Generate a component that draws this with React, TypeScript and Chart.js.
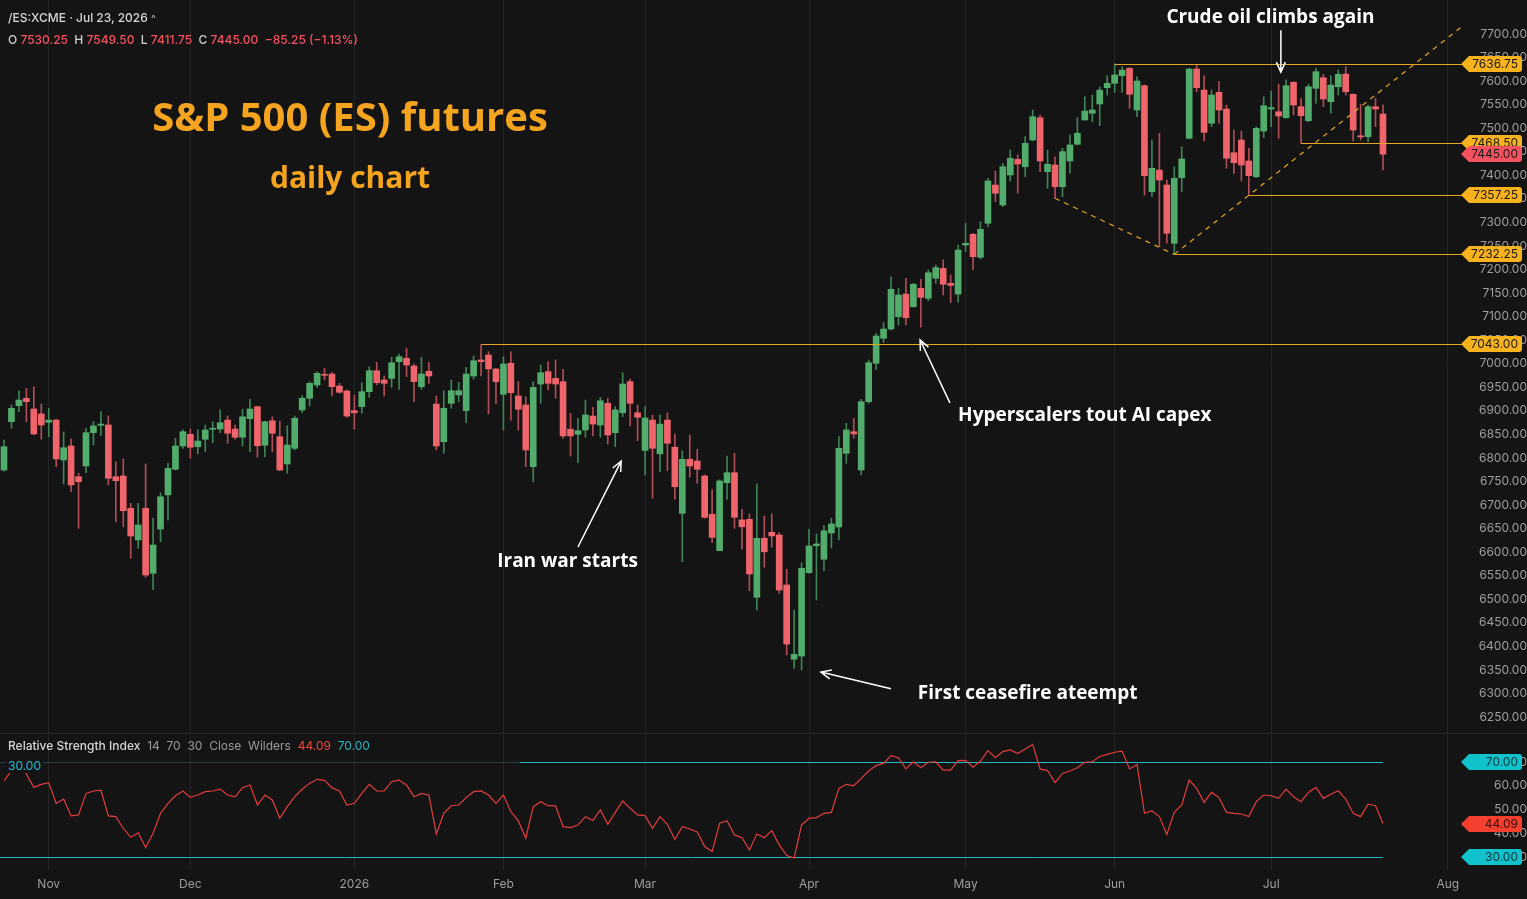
import React, { useEffect, useRef } from 'react';
import { Chart, registerables } from 'chart.js';
Chart.register(...registerables);

// ---------- data (one entry per trading day, Oct 24 2025 .. Jul 23 2026) ----------
const opens = [6774.5, 6877, 6911, 6926.75, 6904, 6893.5, 6875.75, 6880.5, 6795.75, 6825.5,
  6760.25, 6783, 6853.75, 6869.5, 6870, 6760.25, 6761.75, 6693.25, 6626, 6693.25,
  6555.25, 6649.25, 6721.5, 6776, 6825.5, 6850.25, 6824, 6839.75, 6861, 6861.5,
  6880.5, 6861.5, 6844, 6883.5, 6909, 6827, 6879, 6845.25, 6787.25, 6820.5,
  6902, 6926.75, 6955, 6977.5, 6978.25, 6952.75, 6942.25, 6900.5, 6909, 6940.75,
  6985.25, 6965.5, 6969, 7004.5, 7011.5, 6995.25, 6951.25, 6984, 6914.5, 6834.5,
  6916, 6933.75, 6900.5, 6974, 7008, 7018.5, 6989, 6935.25, 7001, 6931.5,
  6912.5, 6781.5, 6957, 6983.25, 6969, 6962, 6861, 6850.25, 6859.5, 6889,
  6870, 6916, 6853.75, 6896, 6962, 6896, 6816, 6880.5, 6809, 6880.5,
  6822.75, 6682.5, 6797.25, 6793.5, 6761.75, 6680.5, 6603.25, 6747.5, 6768.75, 6668.5,
  6669.75, 6504.25, 6629.5, 6642.25, 6636.5, 6530.5, 6372.75, 6379.5, 6556.5, 6613.75,
  6585, 6640.75, 6653.5, 6810, 6855.75, 6774.5, 6919.5, 7001, 7054, 7073.75,
  7100, 7148, 7121.25, 7160.25, 7139, 7181.5, 7202.5, 7170.75, 7148, 7252,
  7274.75, 7226, 7298.25, 7379.5, 7337, 7400.75, 7434, 7418.25, 7475, 7522.25,
  7407.75, 7422, 7375.75, 7430.5, 7466, 7517.5, 7531.75, 7551.5, 7586, 7595.25,
  7611.5, 7627.25, 7538.75, 7590.25, 7365.25, 7411.25, 7379.5, 7255.75, 7395, 7478.5,
  7625.75, 7581, 7510.5, 7576.25, 7540.75, 7448, 7475, 7430.5, 7397, 7494,
  7540.75, 7535, 7522.25, 7597.5, 7545.75, 7516, 7584.75, 7607.25, 7556.25, 7588,
  7615, 7572, 7484, 7482, 7545.75, 7530.25];

const highs = [6838.25, 6912.5, 6942.75, 6948, 6951.25, 6914.5, 6905.5, 6882, 6855.25, 6840.25,
  6767.5, 6863, 6877, 6898.25, 6889, 6792, 6798, 6703.75, 6703.75, 6787.25,
  6672, 6726.25, 6788.75, 6841.75, 6859.5, 6861, 6859.5, 6870, 6877, 6902,
  6889, 6870, 6903.5, 6924.5, 6910.25, 6878.5, 6887.5, 6878.5, 6868.5, 6889,
  6932.25, 6962, 6983.25, 6990.5, 6982, 6958.5, 6944.5, 6933.75, 6959.75, 6993.75,
  7003, 6974, 7013.75, 7020.75, 7032.75, 6999.5, 7013.75, 7003, 6931.5, 6942.75,
  6965.5, 6960.5, 6992.5, 7016.5, 7040, 7025.5, 6990.5, 7015, 7025.5, 6962,
  6930, 6962, 6997.5, 7004.5, 7008, 6988.25, 6894.75, 6884.25, 6923, 6907.5,
  6928.75, 6926.75, 6909, 6981, 6967, 6912.5, 6909, 6891.25, 6891.25, 6896,
  6851, 6815.5, 6848.75, 6818.5, 6764, 6732.25, 6753.5, 6804.25, 6810, 6691,
  6681.25, 6744.75, 6677, 6681.25, 6641.5, 6563.75, 6477.25, 6577.75, 6648.5, 6638.75,
  6656.25, 6672.5, 6845.25, 6873.5, 6884.25, 6924.5, 7008, 7064.75, 7087.25, 7184.75,
  7160.25, 7181.5, 7170.75, 7179.25, 7199, 7209.75, 7220.25, 7188.5, 7252, 7298.25,
  7277, 7301.5, 7393.75, 7409.25, 7425.5, 7453.75, 7443.25, 7482, 7538.75, 7528,
  7453.75, 7439.5, 7457.5, 7485.5, 7522.25, 7567, 7570.5, 7588, 7611.5, 7636.75,
  7630.5, 7629, 7609.5, 7592, 7475, 7489.25, 7390, 7418.25, 7460.75, 7627.25,
  7635.75, 7611.5, 7581, 7599, 7549.25, 7496.25, 7494, 7457.5, 7503.25, 7567,
  7579, 7593.5, 7602.5, 7599, 7563.5, 7593.5, 7627.25, 7614.5, 7611.5, 7623.5,
  7630.5, 7573, 7550.75, 7549.25, 7563.5, 7549.5];

const lows = [6772, 6863, 6898.25, 6877, 6848.75, 6839.75, 6845.25, 6781.5, 6744.75, 6728.5,
  6650.75, 6768.75, 6827.5, 6847.25, 6742.75, 6664.75, 6654, 6587, 6608.25, 6546.75,
  6521.25, 6622.25, 6668.5, 6774.5, 6820.5, 6799.25, 6809, 6813.25, 6832.5, 6853.75,
  6831.25, 6839.75, 6825.5, 6813.25, 6801.5, 6802.75, 6813.25, 6773, 6767.5, 6817,
  6896, 6910.25, 6950, 6965.5, 6932.25, 6937.25, 6886.5, 6861, 6894.75, 6928.75,
  6955, 6931.5, 6950, 6945.75, 6972.5, 6919.5, 6945.75, 6958.5, 6817, 6810,
  6905.5, 6919.5, 6875, 6967, 6974, 6893.5, 6916, 6859.5, 6880.5, 6859.5,
  6781.5, 6749.75, 6916, 6944.25, 6926.75, 6841.75, 6804.25, 6790, 6844, 6846.75,
  6844, 6829.75, 6824, 6887.5, 6868, 6836.75, 6764, 6714.5, 6771, 6773,
  6712.25, 6579.75, 6759, 6746.25, 6672, 6620.25, 6603.25, 6712.25, 6650.75, 6606.25,
  6518.25, 6477.25, 6568, 6610.5, 6512.75, 6381.75, 6353.5, 6350, 6555.25, 6498.5,
  6560.75, 6609, 6626, 6788.75, 6841.75, 6764, 6916, 6988.25, 7044.75, 7071.75,
  7082.25, 7082.25, 7120, 7077.5, 7134, 7170.75, 7146, 7129.5, 7131, 7238,
  7199, 7222.5, 7291, 7344, 7333.5, 7388, 7362, 7397, 7473, 7407.75,
  7372.5, 7351.25, 7354.5, 7404.25, 7464.5, 7517.5, 7513.75, 7505.5, 7570.5, 7576.25,
  7576.25, 7542.25, 7524.5, 7358.25, 7354.5, 7248.5, 7255.75, 7232.25, 7365.25, 7478.5,
  7577.5, 7473, 7503.25, 7510.5, 7415, 7404.25, 7388, 7357.25, 7395, 7480,
  7503.25, 7478.5, 7521.25, 7528, 7468.5, 7513.75, 7553, 7545.75, 7531.75, 7570.5,
  7570.5, 7473, 7475, 7471.5, 7503.25, 7411.75];

const closes = [6824, 6905.5, 6923, 6919.5, 6851, 6870, 6880.5, 6798, 6821.75, 6742.75,
  6749.75, 6853.75, 6868, 6872, 6757, 6751.75, 6688, 6634.5, 6657.75, 6551.5,
  6615.25, 6717.75, 6778, 6825.5, 6855.75, 6822.75, 6836, 6859.5, 6863, 6875,
  6852.5, 6844, 6887.5, 6904, 6826, 6877, 6852.5, 6774.5, 6827.5, 6884.25,
  6926.75, 6958.5, 6979.75, 6975.5, 6951.25, 6939.5, 6889, 6896, 6940.75, 6985.25,
  6959.75, 6958.5, 7002.25, 7015, 6997.5, 6962, 6978.25, 6974, 6825.5, 6905.5,
  6942.75, 6942.75, 6978.25, 7006.5, 7004.5, 6989, 6962, 6999.5, 6938.5, 6903.5,
  6817, 6950, 6981, 6958.5, 6957, 6846.75, 6846.75, 6858, 6891.25, 6872,
  6921.5, 6848.75, 6902, 6957, 6916, 6886.5, 6885, 6820.5, 6872, 6831.25,
  6739, 6797.25, 6783, 6776, 6674, 6631.5, 6751.25, 6768.75, 6674, 6654,
  6553.75, 6629.5, 6601, 6634.5, 6519.75, 6405, 6383.25, 6565.75, 6613.25, 6617.5,
  6645.5, 6660, 6820.5, 6859.5, 6851, 6919.5, 7002.25, 7059, 7073.75, 7158,
  7146, 7097.75, 7168.75, 7141, 7193.25, 7204, 7168.75, 7166.5, 7241.5, 7255.75,
  7227.25, 7285.5, 7388, 7362, 7418.25, 7436.25, 7424, 7468, 7524.5, 7430.5,
  7423.5, 7375.75, 7450.25, 7464.5, 7489.5, 7536.5, 7538.75, 7581, 7595.25, 7613,
  7623.5, 7572, 7600.25, 7399.25, 7415, 7390, 7277, 7393.75, 7434.75, 7625.75,
  7586, 7491.25, 7570.5, 7538.75, 7436.25, 7426.75, 7422, 7399.25, 7499.75, 7547.75,
  7543.75, 7526, 7590.25, 7549.25, 7526.5, 7588, 7620, 7562, 7591.75, 7614.5,
  7577.5, 7496.25, 7481.5, 7545.75, 7540.75, 7445];

const rsiValues = [62.0, 66.5, 68.0, 65.0, 59.3, 60.6, 61.3, 52.6, 54.4, 47.3,
  47.7, 56.8, 57.8, 58.1, 47.3, 47.0, 42.1, 38.3, 40.2, 34.0,
  40.0, 48.4, 52.6, 55.8, 57.8, 55.1, 56.1, 57.5, 57.8, 58.6,
  56.1, 55.3, 59.2, 60.3, 51.9, 56.1, 54.0, 46.3, 51.2, 55.4,
  58.5, 61.0, 62.7, 62.3, 59.2, 57.8, 51.9, 52.6, 56.8, 60.6,
  57.8, 57.8, 61.7, 62.4, 60.3, 55.4, 56.8, 56.1, 39.7, 48.4,
  51.6, 51.9, 55.0, 57.5, 57.8, 56.1, 52.6, 56.1, 49.1, 45.2,
  37.9, 51.2, 53.3, 51.6, 51.5, 42.8, 42.4, 43.5, 47.0, 45.4,
  49.8, 43.8, 48.8, 53.6, 50.5, 47.7, 47.4, 42.1, 47.0, 43.8,
  37.4, 42.8, 41.8, 40.5, 34.4, 32.3, 44.2, 45.3, 39.3, 38.1,
  33.0, 39.7, 38.1, 41.1, 35.1, 30.6, 29.6, 43.5, 46.3, 46.6,
  48.4, 48.8, 58.9, 60.6, 60.0, 63.1, 66.2, 68.5, 69.4, 72.7,
  71.8, 67.1, 70.1, 67.6, 69.9, 70.1, 66.6, 66.6, 70.6, 70.7,
  67.8, 70.4, 74.8, 71.8, 74.4, 75.1, 73.6, 75.5, 77.4, 67.1,
  66.4, 61.3, 65.2, 66.2, 67.6, 69.9, 70.1, 72.3, 73.2, 74.1,
  74.6, 67.1, 69.0, 48.4, 49.4, 47.0, 39.5, 48.8, 51.9, 62.4,
  58.9, 53.0, 57.2, 55.0, 48.8, 48.4, 48.1, 47.0, 53.3, 56.1,
  55.8, 54.7, 58.6, 55.4, 53.3, 57.2, 59.3, 54.7, 56.4, 57.9,
  54.4, 48.4, 47.0, 52.2, 51.6, 44.09];

const monthTickIdx = [6, 25, 47, 67, 86, 108, 129, 149, 170, 193.7];
const monthLabels = ['Nov', 'Dec', '2026', 'Feb', 'Mar', 'Apr', 'May', 'Jun', 'Jul', 'Aug'];
const priceTicks = [6250, 6300, 6350, 6400, 6450, 6500, 6550, 6600, 6650, 6700, 6750, 6800, 6850,
  6900, 6950, 7000, 7050, 7100, 7150, 7200, 7250, 7300, 7350, 7400, 7450, 7500, 7550, 7600, 7650, 7700];
const rsiTicks = [30, 40, 50, 60, 70];

const levelPrices = [7636.75, 7468.5, 7357.25, 7232.25, 7043.0];
const levelStartIdx = [149, 174, 167, 157, 64];
const lastClose = 7445.0;
const rsiLast = 44.09;

const trendFromIdx = [141, 157];
const trendFromPrice = [7351.25, 7232.25];
const trendToIdx = [157, 195.6];
const trendToPrice = [7232.25, 7716];

const noteTexts = ['Crude oil climbs again', 'Hyperscalers tout AI capex', 'Iran war starts', 'First ceasefire ateempt'];
const noteIdx = [169.9, 128.0, 75.6, 122.6];
const notePrice = [7734, 6889, 6581, 6299];
const noteAlign = ['center', 'left', 'center', 'left'];
const arrowFromIdx = [171.3, 126.9, 77.0, 119.0];
const arrowFromPrice = [7708, 6917, 6611, 6310];
const arrowToIdx = [171.3, 122.9, 82.8, 109.6];
const arrowToPrice = [7619, 7050.5, 6793.5, 6345.5];

// ---------- styling ----------
const BG = '#141414';
const GRID = '#252525';
const TICK = '#9e9e9e';
const UP = '#52ad6c';
const DN = '#f0646c';
const WICK_UP = '#3f8456';
const WICK_DN = '#b04d56';
const LINE_ORANGE = '#e6a623';
const TAG_ORANGE = '#f7b21d';
const TAG_RED = '#f7525f';
const TEAL = '#27b7c2';
const TEAL_TAG = '#10c2cc';
const RSI_RED = '#e23d3d';
const RSI_TAG_RED = '#f5402f';
const TITLE_ORANGE = '#f5a41f';
const UI_FONT = "Inter, 'Noto Sans', sans-serif";

const W = 1527;
const MAIN_H = 733;
const RSI_TOP = 733;
const RSI_H = 166;
const X_MIN = -0.537;
const X_MAX = 195.6;
const P_MIN = 6216.2;
const P_MAX = 7772.2;
const R_MIN = 24.53;
const R_MAX = 81.37;

function drawTag(ctx: CanvasRenderingContext2D, y: number, text: string, bg: string, fg: string) {
  const left = 1461, right = 1522, h = 16, pw = 8, r = 3;
  const top = Math.round(y - h / 2);
  ctx.save();
  ctx.fillStyle = bg;
  ctx.beginPath();
  ctx.moveTo(left, top + h / 2);
  ctx.lineTo(left + pw, top);
  ctx.lineTo(right - r, top);
  ctx.quadraticCurveTo(right, top, right, top + r);
  ctx.lineTo(right, top + h - r);
  ctx.quadraticCurveTo(right, top + h, right - r, top + h);
  ctx.lineTo(left + pw, top + h);
  ctx.closePath();
  ctx.fill();
  ctx.fillStyle = fg;
  ctx.font = `12px ${UI_FONT}`;
  ctx.textAlign = 'right';
  ctx.textBaseline = 'middle';
  ctx.fillText(text, 1518, top + h / 2 + 0.5);
  ctx.restore();
}

function drawArrow(ctx: CanvasRenderingContext2D, x1: number, y1: number, x2: number, y2: number) {
  const ang = Math.atan2(y2 - y1, x2 - x1);
  const len = 11;
  ctx.beginPath();
  ctx.moveTo(x1, y1);
  ctx.lineTo(x2, y2);
  ctx.moveTo(x2 - len * Math.cos(ang - 0.42), y2 - len * Math.sin(ang - 0.42));
  ctx.lineTo(x2, y2);
  ctx.lineTo(x2 - len * Math.cos(ang + 0.42), y2 - len * Math.sin(ang + 0.42));
  ctx.stroke();
}

const mainOverlay = {
  id: 'mainOverlay',
  afterDatasetsDraw(chart: any) {
    const { ctx, chartArea, scales } = chart;
    const x = scales.x, y = scales.y;
    ctx.save();
    ctx.strokeStyle = LINE_ORANGE;
    ctx.lineWidth = 1;
    levelPrices.forEach((p, k) => {
      const py = Math.round(y.getPixelForValue(p)) + 0.5;
      ctx.beginPath();
      ctx.moveTo(x.getPixelForValue(levelStartIdx[k]), py);
      ctx.lineTo(chartArea.right, py);
      ctx.stroke();
    });
    ctx.setLineDash([5, 5]);
    ctx.lineWidth = 1.2;
    trendFromIdx.forEach((_, k) => {
      ctx.beginPath();
      ctx.moveTo(x.getPixelForValue(trendFromIdx[k]), y.getPixelForValue(trendFromPrice[k]));
      ctx.lineTo(x.getPixelForValue(trendToIdx[k]), y.getPixelForValue(trendToPrice[k]));
      ctx.stroke();
    });
    ctx.setLineDash([]);
    // notes
    ctx.strokeStyle = '#ffffff';
    ctx.lineWidth = 1.5;
    arrowFromIdx.forEach((_, k) => {
      drawArrow(ctx, x.getPixelForValue(arrowFromIdx[k]), y.getPixelForValue(arrowFromPrice[k]),
        x.getPixelForValue(arrowToIdx[k]), y.getPixelForValue(arrowToPrice[k]));
    });
    ctx.fillStyle = '#ffffff';
    ctx.font = "700 19px 'Open Sans', sans-serif";
    ctx.textBaseline = 'middle';
    noteTexts.forEach((t, k) => {
      ctx.textAlign = noteAlign[k] as CanvasTextAlign;
      ctx.fillText(t, x.getPixelForValue(noteIdx[k]), y.getPixelForValue(notePrice[k]));
    });
    ctx.restore();
  },
  afterDraw(chart: any) {
    const { ctx, scales } = chart;
    const y = scales.y;
    levelPrices.forEach((p) => drawTag(ctx, y.getPixelForValue(p), p.toFixed(2), TAG_ORANGE, '#1a1a1a'));
    drawTag(ctx, y.getPixelForValue(lastClose), lastClose.toFixed(2), TAG_RED, '#1a1a1a');
  },
};

const rsiOverlay = {
  id: 'rsiOverlay',
  beforeDatasetsDraw(chart: any) {
    const { ctx, chartArea, scales } = chart;
    const x = scales.x, y = scales.y;
    const y70 = Math.round(y.getPixelForValue(70)) + 0.5;
    const y30 = Math.round(y.getPixelForValue(30)) + 0.5;
    const xSplit = x.getPixelForValue(69.2);
    const xEnd = x.getPixelForValue(closes.length - 1);
    ctx.save();
    ctx.lineWidth = 1;
    ctx.strokeStyle = '#2e3a3b';
    ctx.beginPath(); ctx.moveTo(chartArea.left, y70); ctx.lineTo(xSplit, y70); ctx.stroke();
    ctx.strokeStyle = TEAL;
    ctx.beginPath(); ctx.moveTo(xSplit, y70); ctx.lineTo(xEnd, y70); ctx.stroke();
    ctx.beginPath(); ctx.moveTo(chartArea.left, y30); ctx.lineTo(xEnd, y30); ctx.stroke();
    ctx.restore();
  },
  afterDraw(chart: any) {
    const { ctx, scales } = chart;
    const y = scales.y;
    drawTag(ctx, y.getPixelForValue(70), '70.00', TEAL_TAG, '#12363a');
    drawTag(ctx, y.getPixelForValue(rsiLast), rsiLast.toFixed(2), RSI_TAG_RED, '#3a0d0a');
    drawTag(ctx, y.getPixelForValue(30), '30.00', TEAL_TAG, '#12363a');
  },
};

const fitY = (s: any) => {
  s.width = W - 1462;
  s.paddingTop = 0;
  s.paddingBottom = 0;
};

export default function App() {
  const mainRef = useRef<HTMLCanvasElement | null>(null);
  const rsiRef = useRef<HTMLCanvasElement | null>(null);

  useEffect(() => {
    document.body.style.margin = '0';
    document.body.style.background = BG;
    const idx = closes.map((_, i) => i);
    const up = idx.map((i) => closes[i] >= opens[i]);
    const wickData = idx.map((i) => ({ x: i, y: [Math.min(lows[i], opens[i], closes[i]), Math.max(highs[i], opens[i], closes[i])] }));
    const bodyData = idx.map((i) => ({ x: i, y: [Math.min(opens[i], closes[i]), Math.max(opens[i], closes[i])] }));
    const font = { family: UI_FONT, size: 12 };

    const main = new Chart(mainRef.current as HTMLCanvasElement, {
      type: 'bar',
      data: {
        datasets: [
          { data: wickData as any, backgroundColor: idx.map((i) => (up[i] ? WICK_UP : WICK_DN)), barThickness: 1, grouped: false, order: 2 } as any,
          { data: bodyData as any, backgroundColor: idx.map((i) => (up[i] ? UP : DN)), barThickness: 6, grouped: false, minBarLength: 1, order: 1 } as any,
        ],
      },
      options: {
        animation: false,
        responsive: false,
        maintainAspectRatio: false,
        layout: { padding: 0 },
        plugins: { legend: { display: false }, tooltip: { enabled: false } },
        scales: {
          x: {
            type: 'linear', min: X_MIN, max: X_MAX, offset: false,
            grid: { color: GRID, drawTicks: false, offset: false },
            border: { display: false },
            ticks: { display: false },
            afterBuildTicks: (s: any) => { s.ticks = monthTickIdx.map((v) => ({ value: v })); },
            afterFit: (s: any) => { s.height = 0; s.paddingLeft = 0; s.paddingRight = 0; },
          },
          y: {
            position: 'right', min: P_MIN, max: P_MAX,
            grid: { display: false, drawTicks: false },
            border: { display: false },
            afterBuildTicks: (s: any) => { s.ticks = priceTicks.map((v) => ({ value: v })); },
            ticks: { color: TICK, font, crossAlign: 'far', padding: 10, callback: (v: any) => Number(v).toFixed(2) },
            afterFit: fitY,
          },
        },
      } as any,
      plugins: [mainOverlay],
    });

    const rsi = new Chart(rsiRef.current as HTMLCanvasElement, {
      type: 'line',
      data: {
        datasets: [{ data: rsiValues.map((v, i) => ({ x: i, y: v })), borderColor: RSI_RED, borderWidth: 1.2, pointRadius: 0, tension: 0 }],
      },
      options: {
        animation: false,
        responsive: false,
        maintainAspectRatio: false,
        layout: { padding: { top: 2, left: 0, right: 0, bottom: 0 } },
        plugins: { legend: { display: false }, tooltip: { enabled: false } },
        scales: {
          x: {
            type: 'linear', min: X_MIN, max: X_MAX,
            grid: { color: GRID, drawTicks: false },
            border: { display: false },
            afterBuildTicks: (s: any) => { s.ticks = monthTickIdx.map((v) => ({ value: v })); },
            ticks: { color: TICK, font, padding: 7, maxRotation: 0, autoSkip: false, callback: (_v: any, i: number) => monthLabels[i] },
            afterFit: (s: any) => { s.height = 29; s.paddingLeft = 0; s.paddingRight = 0; },
          },
          y: {
            position: 'right', min: R_MIN, max: R_MAX,
            grid: { display: false, drawTicks: false },
            border: { display: false },
            afterBuildTicks: (s: any) => { s.ticks = rsiTicks.map((v) => ({ value: v })); },
            ticks: { color: TICK, font, crossAlign: 'far', padding: 22, callback: (v: any) => Number(v).toFixed(2) },
            afterFit: fitY,
          },
        },
      } as any,
      plugins: [rsiOverlay],
    });

    return () => { main.destroy(); rsi.destroy(); };
  }, []);

  const abs: React.CSSProperties = { position: 'absolute', whiteSpace: 'nowrap', pointerEvents: 'none' };
  return (
    <div style={{ position: 'relative', width: W, height: 899, background: BG, overflow: 'hidden', fontFamily: UI_FONT }}>
      <canvas ref={mainRef} width={W} height={MAIN_H} style={{ position: 'absolute', left: 0, top: 0, width: W, height: MAIN_H }} />
      <div style={{ position: 'absolute', left: 0, top: RSI_TOP, width: W, height: 1, background: '#2a2a2a' }} />
      <canvas ref={rsiRef} width={W} height={RSI_H} style={{ position: 'absolute', left: 0, top: RSI_TOP, width: W, height: RSI_H }} />

      <div style={{ ...abs, left: 8, top: 10, fontSize: 12, color: '#d6d6d6', fontWeight: 500 }}>
        /ES:XCME · Jul 23, 2026 <span style={{ fontSize: 10, color: '#bbbbbb' }}>^</span>
      </div>
      <div style={{ ...abs, left: 8, top: 32, fontSize: 12, color: '#cfcfcf', fontWeight: 500 }}>
        O <span style={{ color: TAG_RED }}>7530.25</span>&nbsp;&nbsp;H <span style={{ color: TAG_RED }}>7549.50</span>&nbsp;&nbsp;L <span style={{ color: TAG_RED }}>7411.75</span>&nbsp;&nbsp;C <span style={{ color: TAG_RED }}>7445.00</span>&nbsp;&nbsp;<span style={{ color: TAG_RED }}>−85.25 (−1.13%)</span>
      </div>

      <div style={{ ...abs, left: 350, top: 115, transform: 'translate(-50%, -50%)', fontFamily: "'Open Sans', sans-serif", fontWeight: 700, fontSize: 40, color: TITLE_ORANGE }}>
        S&amp;P 500 (ES) futures
      </div>
      <div style={{ ...abs, left: 350, top: 176, transform: 'translate(-50%, -50%)', fontFamily: "'Open Sans', sans-serif", fontWeight: 700, fontSize: 30, color: TITLE_ORANGE }}>
        daily chart
      </div>

      <div style={{ ...abs, left: 8, top: 738, fontSize: 12, color: '#9a9a9a' }}>
        <span style={{ color: '#d6d6d6', fontWeight: 500 }}>Relative Strength Index</span>&nbsp;&nbsp;14&nbsp;&nbsp;70&nbsp;&nbsp;30&nbsp;&nbsp;Close&nbsp;&nbsp;Wilders&nbsp;&nbsp;<span style={{ color: '#ef4b3f' }}>44.09</span>&nbsp;&nbsp;<span style={{ color: TEAL }}>70.00</span>
      </div>
      <div style={{ ...abs, left: 6, top: 758, fontSize: 12, color: TEAL, background: BG, padding: '0 2px' }}>30.00</div>
    </div>
  );
}
